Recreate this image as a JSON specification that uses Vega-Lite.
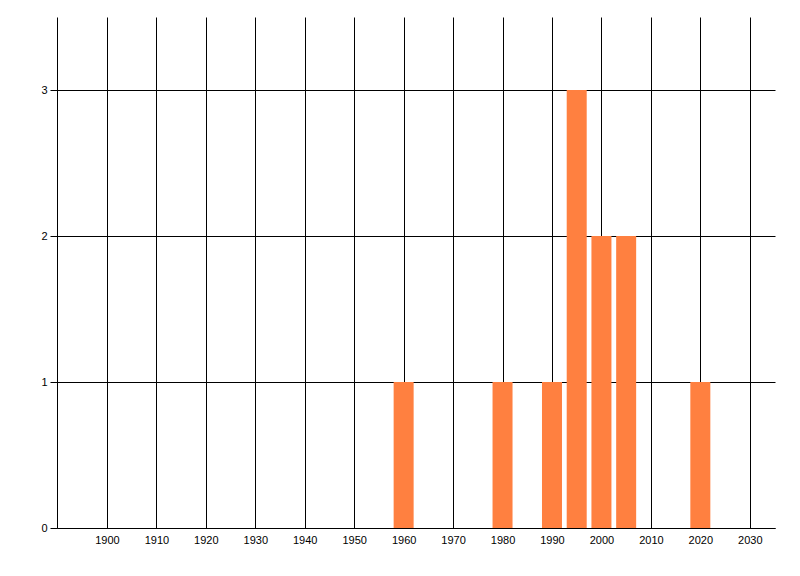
{
  "$schema": "https://vega.github.io/schema/vega-lite/v6.json",
  "width": 718,
  "height": 511,
  "autosize": {"type": "none"},
  "padding": {"left": 57, "top": 17, "right": 25, "bottom": 48},
  "background": "white",
  "config": {
    "view": {"stroke": null},
    "axis": {
      "labelFont": "Liberation Sans",
      "labelFontSize": 11,
      "labelColor": "#000000",
      "gridColor": "#000000",
      "gridOpacity": 1,
      "gridWidth": 1,
      "domainColor": "#000000",
      "domainWidth": 1,
      "tickColor": "#000000",
      "title": null
    }
  },
  "data": {
    "values": [
      {"year": 1960, "count": 1},
      {"year": 1980, "count": 1},
      {"year": 1990, "count": 1},
      {"year": 1995, "count": 3},
      {"year": 2000, "count": 2},
      {"year": 2005, "count": 2},
      {"year": 2020, "count": 1}
    ]
  },
  "mark": {"type": "bar", "size": 20, "color": "#ff8040"},
  "encoding": {
    "x": {
      "field": "year",
      "type": "quantitative",
      "scale": {"domain": [1889.9, 2035.1], "nice": false, "zero": false, "padding": 0},
      "axis": {
        "values": [1900, 1910, 1920, 1930, 1940, 1950, 1960, 1970, 1980, 1990, 2000, 2010, 2020, 2030],
        "format": "d",
        "ticks": false,
        "labelPadding": 6,
        "labelFlush": false,
        "labelOverlap": false
      }
    },
    "y": {
      "field": "count",
      "type": "quantitative",
      "scale": {"domain": [0, 3.5], "nice": false},
      "axis": {
        "values": [0, 1, 2, 3],
        "format": "d",
        "tickSize": 7,
        "labelPadding": 3,
        "labelFlush": false
      }
    }
  }
}
